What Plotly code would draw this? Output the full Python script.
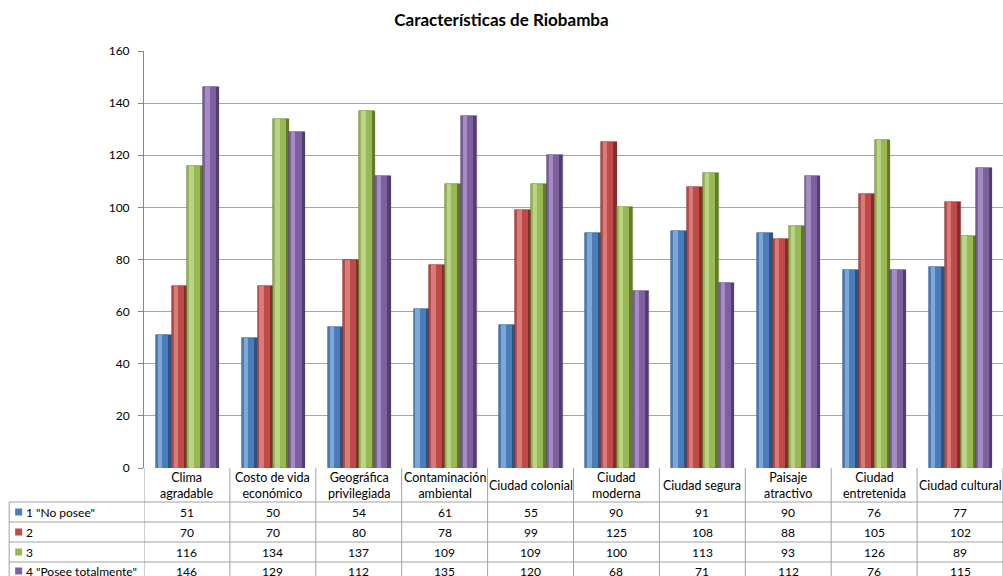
import plotly.graph_objects as go

categories = ["Clima agradable", "Costo de vida económico", "Geográfica privilegiada",
              "Contaminación ambiental", "Ciudad colonial", "Ciudad moderna",
              "Ciudad segura", "Paisaje atractivo", "Ciudad entretenida", "Ciudad cultural"]
header_labels = ["Clima<br>agradable", "Costo de vida<br>económico", "Geográfica<br>privilegiada",
                 "Contaminación<br>ambiental", "Ciudad colonial", "Ciudad<br>moderna",
                 "Ciudad segura", "Paisaje<br>atractivo", "Ciudad<br>entretenida", "Ciudad cultural"]
series_names = ['1 "No posee"', '2', '3', '4 "Posee totalmente"']
s1 = [51, 50, 54, 61, 55, 90, 91, 90, 76, 77]
s2 = [70, 70, 80, 78, 99, 125, 108, 88, 105, 102]
s3 = [116, 134, 137, 109, 109, 100, 113, 93, 126, 89]
s4 = [146, 129, 112, 135, 120, 68, 71, 112, 76, 115]
y_ticks = [0, 20, 40, 60, 80, 100, 120, 140, 160]

series = [s1, s2, s3, s4]
main_colors = ["#4A7EBB", "#BE4B48", "#98B954", "#7D60A0"]
light_colors = ["#7EA6D6", "#D77C79", "#B9D486", "#A48BC2"]
dark_colors = ["#2F5382", "#7E2F2D", "#64792F", "#51406A"]

W, H = 1003, 576
L, T, B = 144, 51, 108
plot_h = H - T - B
plot_w = W - L + 1

def py(pix):  # pixel y -> paper y
    return (H - B - pix) / plot_h

def px(pix):  # pixel x -> paper x
    return (pix - L) / plot_w

FONT = "Lato, 'Open Sans', sans-serif"

fig = go.Figure()
bw = 0.184
start = -0.362
for i, (name, vals) in enumerate(zip(series_names, series)):
    off = start + i * bw
    fig.add_trace(go.Bar(x=categories, y=vals, name=name, width=bw, offset=off,
                         marker=dict(color=main_colors[i], line=dict(width=0.6, color=dark_colors[i]))))
    fig.add_trace(go.Bar(x=categories, y=vals, width=bw * 0.28, offset=off + bw * 0.12,
                         marker=dict(color=light_colors[i], line=dict(width=0)),
                         showlegend=False, hoverinfo="skip"))
    fig.add_trace(go.Bar(x=categories, y=vals, width=bw * 0.2, offset=off + bw * 0.78,
                         marker=dict(color=dark_colors[i], line=dict(width=0)),
                         showlegend=False, hoverinfo="skip"))

shapes = []
annotations = []
line_col = "#A0A0A0"
n = len(categories)
row_lines = [502, 522, 542, 562]
for yl in row_lines:
    shapes.append(dict(type="line", xref="paper", yref="paper", x0=px(9), x1=px(W + 2),
                       y0=py(yl), y1=py(yl), line=dict(color=line_col, width=1)))
shapes.append(dict(type="line", xref="paper", yref="paper", x0=px(9), x1=px(9),
                   y0=py(502), y1=py(H + 5), line=dict(color=line_col, width=1)))
for j in range(n + 1):
    shapes.append(dict(type="line", xref="x", yref="paper", x0=j - 0.5, x1=j - 0.5,
                       y0=0, y1=py(H + 5), line=dict(color=line_col, width=1)))
for j, lab in enumerate(header_labels):
    annotations.append(dict(x=categories[j], xref="x", y=py(485), yref="paper", text=lab,
                            showarrow=False, yanchor="middle", xanchor="center",
                            font=dict(family=FONT, size=12.5, color="#000000")))
row_centers = [512, 532, 552, 571]
for i, (name, vals) in enumerate(zip(series_names, series)):
    yc = row_centers[i]
    shapes.append(dict(type="rect", xref="paper", yref="paper", x0=px(15), x1=px(22),
                       y0=py(yc + 3.5), y1=py(yc - 3.5), fillcolor=main_colors[i],
                       line=dict(width=0)))
    annotations.append(dict(x=px(24), xref="paper", y=py(yc), yref="paper", text=name,
                            showarrow=False, xanchor="left", yanchor="middle",
                            font=dict(family=FONT, size=12, color="#000000")))
    for j, v in enumerate(vals):
        annotations.append(dict(x=categories[j], xref="x", y=py(yc), yref="paper", text=str(v),
                                showarrow=False, xanchor="center", yanchor="middle",
                                font=dict(family=FONT, size=12, color="#000000")))

fig.update_layout(
    width=W, height=H,
    margin=dict(l=L, r=0, t=T, b=B, pad=0),
    paper_bgcolor="white", plot_bgcolor="white",
    barmode="overlay", showlegend=False,
    title=dict(text="<b>Características de Riobamba</b>", x=0.5, xref="container",
               y=1 - 20 / H, yref="container", yanchor="middle", xanchor="center",
               font=dict(family=FONT, size=17, color="#000000")),
    xaxis=dict(type="category", range=[-0.5, n - 0.5], showticklabels=False, ticks="",
               showgrid=False, showline=False, zeroline=False),
    yaxis=dict(range=[0, 160], tickvals=y_ticks, showgrid=True, gridcolor="#A6A6A6",
               gridwidth=1, showline=True, linecolor="#868686", linewidth=1,
               ticks="outside", ticklen=5, tickcolor="#868686", zeroline=False,
               tickfont=dict(family=FONT, size=12, color="#000000"), ticklabelstandoff=6),
    shapes=shapes, annotations=annotations,
    bargap=0,
)
fig.write_html("out.html", config={"displayModeBar": False},
               post_script="document.body.style.margin='0px';document.body.style.overflow='hidden';")
